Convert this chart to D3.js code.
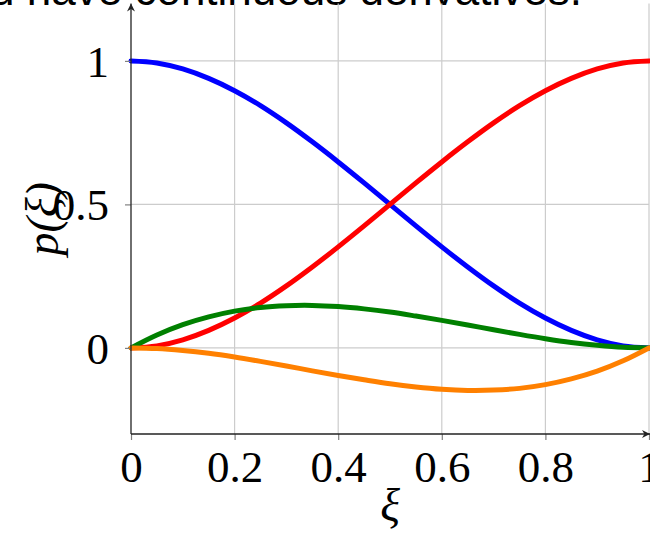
<!DOCTYPE html>
<html>
<head>
<meta charset="utf-8">
<script src="https://cdn.jsdelivr.net/npm/d3@7"></script>
<style>
	html, body { margin: 0; padding: 0; background: white; overflow: hidden; }
	svg { display: block; }
</style>
</head>
<body>
<script>
"use strict";

const xi = [0, 0.05, 0.1, 0.15, 0.2, 0.25, 0.3, 0.35, 0.4, 0.45, 0.5,
	0.55, 0.6, 0.65, 0.7, 0.75, 0.8, 0.85, 0.9, 0.95, 1];
const p_blue = [1, 0.993, 0.972, 0.939, 0.896, 0.844, 0.784, 0.718, 0.648, 0.575, 0.5,
	0.425, 0.352, 0.282, 0.216, 0.156, 0.104, 0.061, 0.028, 0.007, 0];
const p_red = [0, 0.007, 0.028, 0.061, 0.104, 0.156, 0.216, 0.282, 0.352, 0.425, 0.5,
	0.575, 0.648, 0.718, 0.784, 0.844, 0.896, 0.939, 0.972, 0.993, 1];
const p_green = [0, 0.045, 0.081, 0.108, 0.128, 0.141, 0.147, 0.148, 0.144, 0.136, 0.125,
	0.111, 0.096, 0.080, 0.063, 0.047, 0.032, 0.019, 0.009, 0.002, 0];
const p_orange = [0, -0.002, -0.009, -0.019, -0.032, -0.047, -0.063, -0.080, -0.096, -0.111, -0.125,
	-0.136, -0.144, -0.148, -0.147, -0.141, -0.128, -0.108, -0.081, -0.045, 0];

const x_ticks = [0, 0.2, 0.4, 0.6, 0.8, 1];
const y_ticks = [0, 0.5, 1];
const x_domain = [0, 1];
const y_domain = [-0.3, 1.2];
const caption = "d have continuous derivatives.";

const series = [
	{values: p_blue, color: "#0000ff"},
	{values: p_red, color: "#ff0000"},
	{values: p_green, color: "#008000"},
	{values: p_orange, color: "#ff8000"}
];

(function()
{
	let width = 650, height = 534;
	let left = 131, right = 649, top = 3.5, bottom = 434;

	let x = d3.scaleLinear().domain(x_domain).range([left, right]);
	let y = d3.scaleLinear().domain(y_domain).range([bottom, top]);

	let svg = d3.select("body").append("svg")
		.attr("width", width)
		.attr("height", height);

	let defs = svg.append("defs");
	defs.append("marker")
		.attr("id", "arrow")
		.attr("viewBox", "0 -5 10 10")
		.attr("refX", 10)
		.attr("refY", 0)
		.attr("markerWidth", 8)
		.attr("markerHeight", 8)
		.attr("markerUnits", "userSpaceOnUse")
		.attr("orient", "auto")
		.append("path")
		.attr("d", "M0,-5L10,0L0,5L3,0Z")
		.attr("fill", "#222");

	//caption text, cut by the top edge
	svg.append("text")
		.attr("x", 582)
		.attr("y", 5)
		.attr("text-anchor", "end")
		.attr("font-family", "Liberation Sans, Arial, sans-serif")
		.attr("font-size", 44)
		.attr("fill", "black")
		.text(caption);

	//grid
	let grid = svg.append("g")
		.attr("stroke", "#cccccc")
		.attr("stroke-width", 1.2);
	for (let t of x_ticks)
	{
		if (t === 0) continue;
		grid.append("line")
			.attr("x1", x(t)).attr("x2", x(t))
			.attr("y1", bottom).attr("y2", top);
	}
	for (let t of y_ticks)
	{
		grid.append("line")
			.attr("x1", left).attr("x2", right)
			.attr("y1", y(t)).attr("y2", y(t));
	}

	//curves
	let path_func = d3.line()
		.x(function(d) { return x(d[0]); })
		.y(function(d) { return y(d[1]); })
		.curve(d3.curveCatmullRom.alpha(0));
	let curves = svg.append("g")
		.attr("fill", "none")
		.attr("stroke-width", 5)
		.attr("stroke-linecap", "round")
		.attr("stroke-linejoin", "round");
	for (let s of series)
	{
		curves.append("path")
			.attr("stroke", s.color)
			.attr("d", path_func(xi.map(function(v, i) { return [v, s.values[i]]; })));
	}

	//axes with d3 axis generators
	let font = "Liberation Serif, Times New Roman, serif";
	let x_axis = svg.append("g")
		.attr("transform", "translate(0," + bottom + ")")
		.call(d3.axisBottom(x).tickValues(x_ticks).tickSize(6).tickSizeOuter(0).tickPadding(10)
			.tickFormat(d3.format("")));
	let y_axis = svg.append("g")
		.attr("transform", "translate(" + left + ",0)")
		.call(d3.axisLeft(y).tickValues(y_ticks).tickSize(6).tickSizeOuter(0).tickPadding(16)
			.tickFormat(d3.format("")));
	for (let ax of [x_axis, y_axis])
	{
		ax.select(".domain").remove();
		ax.selectAll(".tick line").attr("stroke", "#808080").attr("stroke-width", 1.2);
		ax.selectAll(".tick text")
			.attr("font-family", font)
			.attr("font-size", 45)
			.attr("fill", "black");
	}
	x_axis.selectAll(".tick text").attr("dy", "0.72em");
	y_axis.selectAll(".tick text").attr("dy", "0.34em");

	//axis lines with arrows
	svg.append("line")
		.attr("x1", left).attr("y1", bottom)
		.attr("x2", right + 1).attr("y2", bottom)
		.attr("stroke", "#222").attr("stroke-width", 1.3)
		.attr("marker-end", "url(#arrow)");
	svg.append("line")
		.attr("x1", left).attr("y1", bottom)
		.attr("x2", left).attr("y2", top)
		.attr("stroke", "#222").attr("stroke-width", 1.3)
		.attr("marker-end", "url(#arrow)");

	//axis labels
	svg.append("text")
		.attr("x", (left + right) / 2)
		.attr("y", 521)
		.attr("text-anchor", "middle")
		.attr("font-family", font)
		.attr("font-style", "italic")
		.attr("font-size", 46)
		.text("ξ");
	svg.append("text")
		.attr("transform", "translate(58," + ((top + bottom) / 2) + ") rotate(-90)")
		.attr("text-anchor", "middle")
		.attr("font-family", font)
		.attr("font-style", "italic")
		.attr("font-size", 46)
		.text("p(ξ)");
})();
</script>
</body>
</html>
